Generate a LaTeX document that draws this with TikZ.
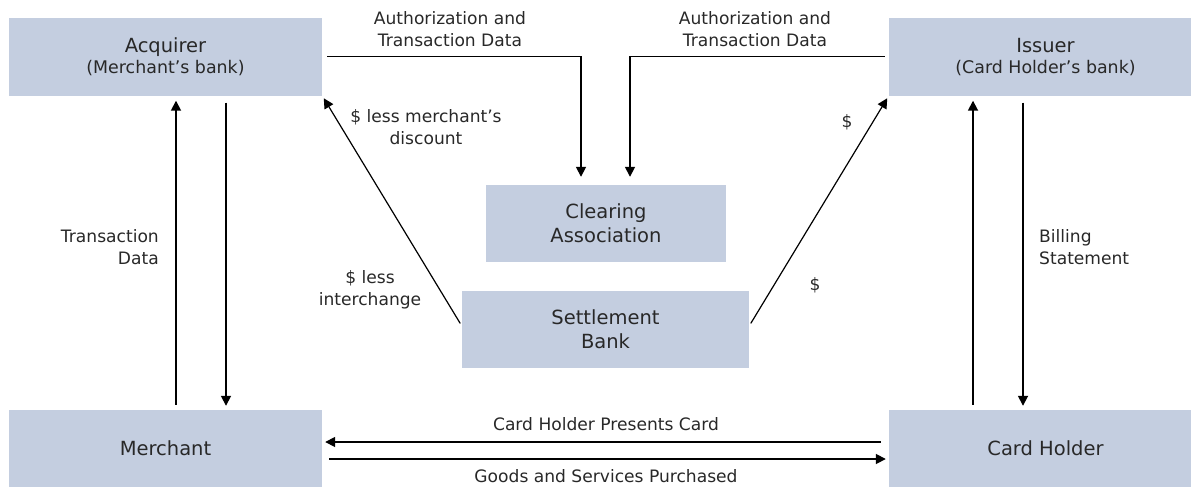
\documentclass[tikz,border=0pt]{standalone}
\usepackage{fontspec}
\setmainfont{DejaVu Sans}
\usetikzlibrary{arrows.meta}
\definecolor{boxc}{RGB}{196,206,224}
\definecolor{txt}{RGB}{40,40,40}
\tikzset{
  box/.style={rectangle, fill=boxc, draw=none, inner sep=0pt, align=center, text=txt,
    font=\fontsize{19.5}{24}\selectfont},
  lbl/.style={inner sep=0pt, align=center, text=txt, font=\fontsize{17.1}{21.5}\selectfont},
  arr/.style={line width=1.7pt, -{Triangle[length=10pt,width=10pt]}},
  darr/.style={line width=1.2pt, -{Triangle[length=10pt,width=10pt]}}
}
\begin{document}
\begin{tikzpicture}[x=1pt,y=-1pt]
\useasboundingbox (0,0) rectangle (1191,487);
\clip (0,0) rectangle (1191,487);
% boxes
\node[box, minimum width=313pt, minimum height=77pt] (acq) at (165.5,57)
  {Acquirer\\[-3pt]{\fontsize{17.4}{21}\selectfont (Merchant’s bank)}};
\node[box, minimum width=313pt, minimum height=77pt] (iss) at (1045.5,57)
  {Issuer\\[-3pt]{\fontsize{17.4}{21}\selectfont (Card Holder’s bank)}};
\node[box, minimum width=240pt, minimum height=77pt] (clr) at (606,223.5)
  {Clearing\\Association};
\node[box, minimum width=287pt, minimum height=77pt] (stl) at (605.5,329.5)
  {Settlement\\Bank};
\node[box, minimum width=313pt, minimum height=77pt] (mer) at (165.5,448.5) {Merchant};
\node[box, minimum width=313pt, minimum height=77pt] (ch) at (1045.5,448.5) {Card Holder};
% top connectors
\draw[arr, shorten <=5pt, shorten >=8pt] ([yshift=0.5pt]acq.east) -| ([xshift=-25pt]clr.north);
\draw[arr, shorten <=4pt, shorten >=8pt] ([yshift=0.5pt]iss.west) -| ([xshift=24pt]clr.north);
% diagonals
\draw[darr, shorten <=3pt, shorten >=3pt] ([yshift=3.5pt]stl.west) -- (acq.south east);
\draw[darr, shorten <=3pt, shorten >=3pt] ([yshift=3.5pt]stl.east) -- (iss.south west);
% verticals left
\draw[arr, shorten <=5pt, shorten >=5pt] ([xshift=10.5pt]mer.north) -- ([xshift=10.5pt]acq.south);
\draw[arr, shorten <=7pt, shorten >=4pt] ([xshift=60.5pt]acq.south) -- ([xshift=60.5pt]mer.north);
% verticals right
\draw[arr, shorten <=5pt, shorten >=5pt] ([xshift=-72.5pt]ch.north) -- ([xshift=-72.5pt]iss.south);
\draw[arr, shorten <=7pt, shorten >=4pt] ([xshift=-22.5pt]iss.south) -- ([xshift=-22.5pt]ch.north);
% bottom
\draw[arr, shorten <=8pt, shorten >=3pt] ([yshift=6.5pt]ch.west) -- ([yshift=6.5pt]mer.east);
\draw[arr, shorten <=7pt, shorten >=3pt] ([yshift=-10.5pt]mer.east) -- ([yshift=-10.5pt]ch.west);
% labels
\node[lbl] (authl) at (450,29) {Authorization and\\Transaction Data};
\node[lbl] (authr) at (755,29) {Authorization and\\Transaction Data};
\node[lbl] (mdisc) at (426,127) {\$ less merchant’s\\discount};
\node[lbl] (inter) at (370,290) {\$ less\\interchange};
\node[lbl] (d1) at (847,122) {\$};
\node[lbl] (d2) at (815,285) {\$};
\node[lbl, align=right, anchor=east] (tdata) at (159,247) {Transaction\\Data};
\node[lbl, align=left, anchor=west] (bill) at (1039,247) {Billing\\Statement};
\node[lbl] (chp) at (606,424) {Card Holder Presents Card};
\node[lbl] (goods) at (606,476) {Goods and Services Purchased};
\end{tikzpicture}
\end{document}
